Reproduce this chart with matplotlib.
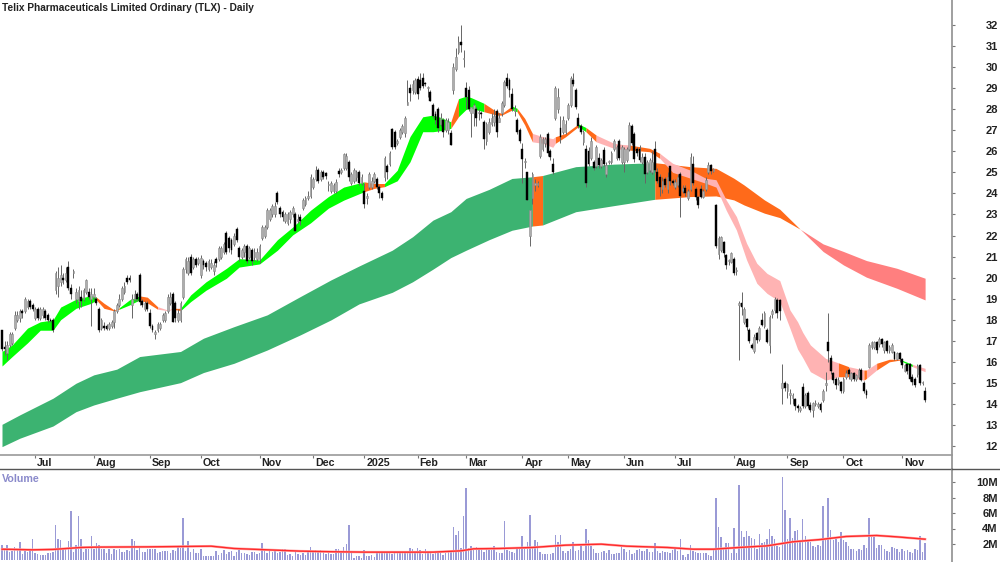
import matplotlib
matplotlib.use("Agg")
import matplotlib.pyplot as plt

plt.rcParams["font.family"] = ["Liberation Sans", "DejaVu Sans"]

title = "Telix Pharmaceuticals Limited Ordinary (TLX) - Daily"

month_idx = [13, 36, 58, 78, 101, 122, 142, 163, 182, 204, 222, 244, 264, 287, 308, 330, 353]
month_labels = ["Jul", "Aug", "Sep", "Oct", "Nov", "Dec", "2025", "Feb", "Mar", "Apr", "May", "Jun",
                "Jul", "Aug", "Sep", "Oct", "Nov"]
price_ticks = list(range(12, 33))
volume_ticks = [2, 4, 6, 8, 10]
volume_tick_labels = ["2M", "4M", "6M", "8M", "10M"]

opens = [
    17.5, 16.7, 16.4, 16.8, 16.9, 17.6, 18.0, 18.1, 18.4, 18.4, 18.6, 18.9, 18.7, 18.1, 18.5, 18.1, 18.2, 18.4, 18.2, 18.0,
    18.0, 19.4, 19.6, 19.8, 20.0, 19.9, 20.5, 19.5, 20.2, 19.0, 18.9, 19.1, 19.0, 19.3, 19.3, 19.0, 19.1, 19.0, 18.5, 17.6,
    17.7, 17.7, 17.6, 17.7, 17.9, 18.4, 18.7, 19.0, 19.3, 20.0, 20.0, 18.7, 19.0, 19.2, 20.1, 18.9, 18.5, 18.8, 18.3, 17.7,
    17.3, 17.5, 17.6, 18.0, 18.0, 18.4, 18.8, 19.2, 18.8, 18.0, 18.0, 19.1, 20.4, 20.2, 21.0, 20.5, 20.9, 20.7, 20.1, 20.8,
    20.7, 20.4, 20.5, 20.3, 20.9, 20.9, 21.0, 21.2, 22.1, 21.9, 21.8, 21.6, 22.3, 21.4, 21.0, 21.2, 21.5, 21.0, 21.3, 21.0,
    20.9, 20.9, 21.9, 22.0, 22.4, 22.8, 23.0, 23.0, 24.0, 23.3, 23.1, 22.7, 22.6, 22.8, 23.0, 23.0, 22.7, 22.9, 23.3, 23.5,
    23.8, 23.9, 24.3, 24.7, 25.1, 24.7, 25.0, 24.95, 24.4, 24.1, 24.1, 24.1, 25.05, 25.0, 25.2, 25.2, 25.5, 24.5, 24.6, 24.8,
    25.0, 24.5, 24.1, 23.8, 24.3, 24.3, 24.6, 24.7, 24.3, 24.0, 24.8, 25.3, 25.4, 27.05, 26.9, 26.4, 26.7, 26.9, 26.85, 28.2,
    29.0, 28.9, 28.8, 29.45, 29.4, 29.5, 29.25, 29.0, 28.8, 28.2, 27.75, 28.0, 27.3, 27.5, 27.0, 27.0, 26.85, 28.9, 29.9, 30.7,
    31.2, 30.4, 29.0, 28.9, 27.8, 27.8, 28.0, 27.8, 27.8, 27.4, 26.5, 26.9, 27.3, 27.4, 27.9, 27.4, 27.8, 28.2, 29.5, 29.4,
    28.7, 27.9, 27.5, 27.0, 26.1, 25.5, 25.0, 22.0, 23.8, 24.4, 24.4, 25.8, 26.1, 26.4, 26.8, 26.0, 25.4, 27.6, 28.0, 27.1,
    26.9, 26.9, 27.6, 28.2, 29.4, 28.9, 27.6, 27.2, 26.45, 26.1, 26.0, 25.7, 25.5, 25.3, 25.7, 25.3, 26.05, 24.9, 25.5, 25.5,
    26.1, 25.7, 26.5, 25.5, 25.5, 25.6, 26.1, 27.2, 26.8, 26.1, 26.1, 25.5, 25.75, 25.0, 25.1, 25.0, 26.1, 25.0, 24.8, 24.2,
    24.7, 24.2, 25.3, 24.6, 24.3, 24.4, 24.9, 24.1, 24.25, 23.8, 24.2, 25.4, 24.2, 23.85, 24.2, 23.85, 24.2, 25.0, 25.35, 25.05,
    23.45, 21.1, 21.3, 21.7, 21.05, 20.8, 20.75, 20.9, 20.3, 18.7, 18.8, 17.9, 18.05, 17.5, 16.8, 16.5, 17.35, 17.1, 18.0, 17.7,
    17.5, 16.8, 18.25, 18.45, 18.95, 18.95, 14.75, 15.0, 14.6, 14.4, 14.3, 14.25, 13.9, 13.7, 14.8, 13.9, 14.5, 13.95, 13.7, 14.0,
    13.9, 14.0, 14.2, 14.9, 16.95, 16.2, 15.45, 15.2, 15.0, 15.05, 14.6, 15.3, 15.6, 15.2, 15.45, 15.2, 15.3, 15.6, 15.0, 14.6,
    15.75, 16.7, 16.7, 16.95, 16.85, 17.1, 16.55, 17.0, 16.55, 16.45, 16.45, 16.15, 16.4, 16.15, 15.55, 15.9, 15.9, 15.3, 15.2, 15.4,
    15.85, 15.0, 14.6,
]
closes = [
    16.6, 16.6, 16.8, 17.3, 17.3, 18.2, 18.2, 18.4, 18.3, 19.0, 18.9, 18.6, 18.5, 18.5, 18.1, 18.5, 18.5, 18.1, 18.0, 17.95,
    17.5, 20.2, 20.0, 20.1, 19.9, 20.2, 19.5, 19.2, 20.3, 19.3, 19.4, 18.9, 19.4, 19.9, 19.1, 19.2, 19.2, 18.8, 17.5, 18.0,
    17.6, 17.55, 17.8, 17.9, 18.4, 18.7, 19.0, 19.5, 19.6, 19.8, 19.9, 19.0, 19.2, 19.0, 18.85, 18.7, 18.8, 18.5, 17.7, 17.5,
    17.4, 17.8, 17.8, 18.2, 18.3, 19.1, 19.1, 17.9, 18.1, 18.3, 18.8, 20.4, 20.9, 20.8, 20.2, 20.9, 20.6, 20.9, 20.95, 20.6,
    20.5, 20.8, 20.7, 20.6, 20.7, 21.4, 21.4, 21.6, 21.2, 21.4, 21.3, 22.0, 21.8, 21.0, 21.3, 21.5, 20.8, 21.4, 20.8, 21.2,
    21.2, 21.5, 22.4, 22.4, 23.2, 23.2, 23.4, 23.4, 23.6, 23.0, 22.9, 23.0, 23.0, 23.1, 23.3, 22.2, 22.8, 22.7, 23.7, 23.8,
    23.9, 24.8, 24.7, 25.1, 24.6, 25.0, 24.8, 24.85, 24.4, 24.5, 24.4, 24.55, 24.9, 25.1, 25.85, 25.8, 24.8, 24.9, 25.1, 25.0,
    24.5, 24.8, 23.5, 23.9, 24.9, 24.6, 24.9, 24.3, 24.0, 23.8, 25.7, 25.0, 25.9, 26.2, 26.2, 26.5, 27.0, 27.2, 27.6, 28.35,
    28.75, 29.2, 29.4, 28.7, 29.0, 29.1, 29.2, 29.0, 28.4, 27.7, 27.5, 27.1, 27.6, 26.9, 27.5, 27.4, 26.3, 30.0, 30.5, 31.2,
    31.05, 30.45, 28.6, 28.0, 28.1, 28.2, 27.6, 27.85, 27.75, 26.6, 27.3, 27.4, 27.6, 27.7, 26.9, 27.6, 28.3, 29.3, 29.1, 28.9,
    28.0, 28.0, 26.9, 26.5, 25.65, 25.55, 23.7, 23.2, 24.9, 24.5, 24.5, 26.7, 26.6, 26.6, 25.9, 25.75, 25.0, 29.0, 28.6, 26.7,
    27.5, 27.3, 28.2, 29.5, 29.2, 28.1, 27.2, 26.9, 26.9, 24.5, 25.4, 26.5, 25.2, 26.2, 25.35, 25.6, 25.4, 25.35, 25.5, 25.9,
    26.5, 26.2, 25.7, 26.2, 26.1, 26.1, 27.25, 26.4, 25.65, 25.9, 25.6, 25.75, 24.9, 25.5, 25.6, 25.5, 25.1, 24.6, 24.3, 24.6,
    24.4, 24.8, 24.6, 24.5, 24.55, 24.8, 23.9, 24.25, 24.0, 24.1, 25.75, 24.5, 23.85, 23.45, 23.85, 24.1, 24.65, 25.35, 25.05, 25.15,
    21.5, 21.9, 21.95, 21.15, 20.6, 20.85, 21.15, 20.2, 20.3, 18.8, 18.6, 18.5, 17.65, 17.0, 16.65, 17.2, 17.05, 17.6, 17.75, 18.3,
    16.95, 18.15, 18.4, 19.0, 18.3, 18.4, 15.0, 14.75, 14.95, 14.5, 14.4, 13.9, 13.8, 13.8, 13.9, 14.4, 13.9, 13.7, 14.05, 14.05,
    14.0, 13.7, 14.6, 15.0, 16.5, 15.55, 15.15, 14.9, 15.15, 14.6, 15.2, 15.45, 15.4, 15.45, 15.2, 15.35, 15.6, 15.15, 14.6, 14.4,
    16.8, 16.95, 16.95, 16.55, 17.1, 16.85, 16.95, 16.5, 16.7, 16.8, 16.15, 16.4, 16.15, 15.85, 15.85, 15.55, 15.2, 15.05, 14.9, 15.8,
    15.0, 15.0, 14.2,
]
highs = [
    17.5, 17.0, 17.0, 17.4, 17.4, 18.4, 18.4, 18.5, 18.5, 19.1, 19.0, 19.0, 18.8, 18.6, 18.6, 18.6, 18.6, 18.5, 18.3, 18.1,
    18.1, 20.3, 20.5, 20.6, 20.2, 20.5, 20.8, 19.7, 20.4, 19.5, 19.6, 19.4, 19.5, 19.95, 19.5, 19.5, 19.5, 19.1, 18.6, 18.1,
    17.9, 17.8, 17.9, 18.0, 18.5, 18.8, 19.2, 19.6, 19.8, 20.1, 20.1, 19.2, 19.4, 19.3, 20.2, 19.0, 18.9, 18.9, 18.5, 17.8,
    17.5, 17.9, 17.9, 18.3, 18.4, 19.2, 19.3, 19.3, 18.9, 18.5, 18.9, 20.5, 21.0, 21.0, 21.1, 21.0, 21.0, 21.0, 21.05, 20.9,
    20.8, 20.9, 20.9, 20.8, 21.0, 21.5, 21.5, 21.7, 22.2, 22.0, 21.9, 22.1, 22.4, 21.5, 21.4, 21.6, 21.6, 21.5, 21.4, 21.4,
    21.4, 21.6, 22.5, 22.5, 23.3, 23.3, 23.5, 23.6, 24.1, 23.4, 23.2, 23.1, 23.1, 23.2, 23.4, 23.1, 23.0, 23.0, 23.8, 23.9,
    24.1, 24.9, 24.8, 25.3, 25.2, 25.1, 25.1, 25.0, 24.6, 24.6, 24.5, 24.7, 25.2, 25.2, 25.9, 25.9, 25.6, 25.0, 25.2, 25.1,
    25.1, 24.9, 24.5, 24.0, 25.0, 24.8, 25.0, 24.8, 24.4, 24.1, 25.8, 25.4, 26.0, 27.1, 27.0, 26.6, 27.1, 27.3, 27.7, 29.4,
    29.2, 29.4, 29.5, 29.6, 29.7, 29.7, 29.3, 29.1, 28.9, 28.3, 27.9, 28.1, 27.8, 27.6, 27.6, 27.6, 27.0, 30.2, 30.9, 31.5,
    32.0, 30.8, 29.3, 29.1, 28.1, 28.3, 28.1, 28.0, 27.9, 27.5, 27.4, 27.6, 27.8, 28.0, 28.0, 27.8, 28.4, 29.4, 29.7, 29.5,
    29.0, 28.2, 27.6, 27.1, 26.4, 25.7, 25.0, 23.2, 25.0, 24.7, 24.6, 26.8, 26.7, 26.7, 26.9, 26.1, 25.7, 29.1, 29.0, 27.7,
    27.7, 27.5, 28.3, 29.6, 29.7, 29.0, 27.8, 27.3, 27.0, 26.3, 26.2, 26.7, 25.6, 26.3, 25.9, 25.7, 26.2, 25.5, 25.6, 26.0,
    26.6, 26.3, 26.6, 26.3, 26.2, 26.2, 27.4, 27.3, 26.9, 26.2, 26.3, 25.9, 25.9, 25.6, 25.7, 26.0, 26.5, 25.2, 24.9, 24.8,
    24.8, 25.0, 25.3, 24.7, 24.7, 24.9, 25.0, 24.4, 24.4, 24.2, 25.9, 25.8, 24.3, 23.9, 24.4, 24.2, 24.8, 25.5, 25.4, 25.2,
    23.5, 22.0, 22.0, 21.75, 21.1, 20.9, 21.2, 21.0, 20.5, 18.9, 19.3, 18.6, 18.1, 17.6, 16.9, 17.3, 17.4, 17.7, 18.3, 18.4,
    17.6, 18.2, 18.5, 19.1, 19.05, 19.0, 15.9, 15.1, 15.0, 14.7, 14.5, 14.3, 14.0, 13.9, 15.0, 14.5, 14.6, 14.1, 14.1, 14.2,
    14.1, 14.1, 14.7, 15.5, 18.3, 16.3, 15.5, 15.3, 15.3, 15.1, 15.3, 15.6, 15.7, 15.5, 15.5, 15.4, 15.7, 15.7, 15.1, 14.7,
    16.9, 17.0, 17.0, 17.0, 17.2, 17.15, 17.0, 17.05, 16.8, 16.9, 16.5, 16.45, 16.45, 16.2, 15.9, 15.95, 15.95, 15.4, 15.3, 15.9,
    15.9, 15.1, 14.8,
]
lows = [
    16.5, 16.3, 16.1, 16.7, 16.8, 17.5, 17.9, 17.9, 18.1, 18.3, 18.5, 18.5, 18.4, 18.0, 18.0, 18.0, 18.1, 18.0, 17.9, 17.9,
    17.4, 19.2, 19.1, 19.6, 19.7, 19.8, 19.4, 19.0, 20.0, 18.8, 18.5, 18.6, 18.9, 19.2, 19.0, 17.7, 19.0, 18.7, 17.4, 17.5,
    17.5, 17.5, 17.5, 17.6, 17.6, 18.3, 18.6, 18.9, 19.2, 19.7, 19.8, 18.1, 18.9, 18.9, 18.7, 18.6, 18.4, 18.4, 17.6, 17.4,
    17.1, 17.4, 17.5, 17.9, 17.9, 18.3, 18.7, 17.9, 17.9, 17.9, 17.9, 19.0, 20.2, 20.1, 20.1, 20.4, 20.5, 20.6, 20.0, 20.4,
    20.3, 20.3, 20.4, 20.1, 20.5, 20.8, 20.9, 21.1, 21.1, 21.2, 21.1, 21.5, 21.7, 20.8, 20.9, 21.0, 20.7, 20.9, 20.6, 20.8,
    20.8, 20.7, 21.8, 21.9, 22.3, 22.7, 22.9, 22.9, 23.5, 22.9, 22.7, 22.6, 22.5, 22.6, 22.9, 22.2, 22.6, 22.5, 23.2, 23.4,
    23.7, 23.8, 24.2, 24.6, 24.5, 24.6, 24.7, 24.7, 24.1, 24.0, 24.0, 24.0, 24.8, 24.9, 25.1, 25.1, 24.6, 24.4, 24.5, 24.6,
    24.4, 24.4, 23.3, 23.5, 24.2, 24.2, 24.5, 24.2, 23.8, 23.7, 24.6, 24.7, 25.3, 26.1, 26.1, 26.3, 26.6, 26.8, 26.7, 28.2,
    28.4, 28.7, 28.7, 28.5, 28.9, 29.0, 29.1, 28.6, 28.4, 27.6, 27.3, 26.9, 27.2, 26.7, 26.9, 26.8, 26.3, 28.7, 29.8, 30.6,
    30.7, 30.0, 28.0, 27.9, 26.7, 27.2, 27.2, 27.5, 27.6, 26.1, 26.3, 26.8, 27.2, 27.2, 26.7, 27.4, 27.7, 28.1, 29.0, 28.6,
    27.9, 27.7, 26.8, 26.4, 24.5, 25.2, 23.7, 21.5, 23.5, 24.1, 24.3, 25.7, 26.0, 26.2, 25.8, 25.6, 24.9, 27.5, 27.8, 26.4,
    26.8, 26.8, 27.5, 28.1, 29.1, 28.0, 27.1, 26.8, 26.3, 24.3, 25.3, 25.6, 25.1, 25.2, 25.2, 25.2, 25.3, 24.8, 25.4, 25.4,
    26.0, 25.6, 25.6, 25.4, 25.0, 25.5, 26.0, 26.3, 25.5, 25.8, 25.5, 25.4, 24.5, 24.9, 25.0, 24.9, 25.0, 24.5, 23.9, 24.0,
    24.3, 24.0, 24.4, 24.4, 24.2, 24.3, 22.9, 24.0, 23.9, 23.7, 24.1, 24.4, 23.7, 23.3, 23.8, 23.8, 24.1, 24.9, 24.9, 25.0,
    21.4, 20.9, 21.2, 21.0, 20.4, 20.6, 20.7, 20.1, 20.1, 16.1, 18.2, 17.8, 17.5, 16.9, 16.6, 16.4, 16.9, 17.0, 17.7, 17.6,
    16.9, 16.4, 18.1, 18.3, 18.1, 18.0, 14.0, 14.6, 14.3, 14.0, 14.0, 13.7, 13.6, 13.6, 13.8, 13.8, 13.8, 13.6, 13.4, 13.9,
    13.8, 13.6, 14.1, 14.6, 16.0, 15.4, 15.0, 14.7, 14.9, 14.5, 14.5, 15.2, 15.2, 15.1, 15.1, 15.1, 15.2, 15.1, 14.5, 14.3,
    15.7, 16.6, 16.6, 16.4, 16.7, 16.7, 16.4, 16.4, 16.4, 16.4, 16.1, 16.1, 16.0, 15.7, 15.5, 15.4, 15.1, 14.9, 14.8, 15.3,
    14.9, 14.9, 14.1,
]
volumes = [
    1.85, 1.2, 1.85, 1.0, 1.1, 1.55, 1.2, 2.3, 0.7, 1.1, 1.0, 1.1, 2.6, 0.8, 0.7, 0.6, 0.6, 0.6, 0.9, 0.9,
    1.0, 4.5, 2.7, 2.5, 1.3, 1.3, 2.4, 6.3, 1.0, 1.9, 5.6, 2.7, 1.0, 1.3, 1.4, 3.0, 1.3, 2.1, 1.9, 1.3,
    1.3, 0.8, 1.3, 0.7, 1.3, 1.2, 1.4, 1.0, 1.0, 1.2, 1.1, 2.7, 2.4, 1.2, 1.6, 1.0, 1.0, 1.4, 1.3, 1.3,
    1.3, 0.9, 1.0, 1.1, 1.1, 1.1, 0.9, 1.2, 1.1, 1.6, 1.5, 5.3, 1.1, 2.4, 1.0, 1.4, 0.9, 0.9, 1.4, 0.5,
    0.5, 0.5, 0.5, 0.5, 1.1, 0.6, 0.8, 1.2, 0.7, 1.0, 1.1, 0.5, 1.0, 1.2, 0.9, 0.9, 0.7, 0.6, 1.0, 1.0,
    0.7, 0.9, 2.15, 1.2, 0.9, 1.3, 1.0, 1.1, 0.9, 1.0, 1.3, 1.3, 0.6, 0.7, 0.5, 1.0, 0.7, 0.6, 0.9, 0.6,
    1.1, 1.6, 1.0, 1.2, 1.1, 1.2, 1.0, 0.7, 1.1, 0.7, 0.7, 1.3, 1.3, 0.9, 1.6, 2.0, 4.5, 0.9, 0.2, 0.4,
    0.5, 0.2, 1.2, 0.5, 0.5, 0.6, 0.3, 0.9, 0.9, 1.0, 0.8, 0.9, 0.9, 0.7, 1.1, 0.8, 1.0, 1.0, 1.0, 1.1,
    1.5, 1.3, 1.0, 1.5, 1.2, 0.7, 1.4, 0.8, 1.0, 0.7, 0.8, 0.8, 0.8, 0.6, 0.9, 1.0, 1.0, 4.2, 3.1, 3.65,
    1.5, 5.6, 9.2, 1.5, 1.7, 1.3, 1.6, 1.5, 1.4, 1.0, 1.5, 1.2, 1.2, 1.8, 1.0, 0.8, 0.9, 4.95, 1.2, 1.1,
    1.0, 0.8, 1.4, 1.5, 3.0, 1.6, 2.2, 5.7, 1.5, 2.5, 2.3, 1.0, 0.7, 0.7, 0.7, 0.7, 0.8, 3.1, 2.2, 3.1,
    1.1, 0.9, 1.1, 1.3, 2.3, 1.1, 1.2, 1.7, 1.1, 4.0, 2.5, 1.7, 1.3, 0.9, 0.9, 1.0, 1.1, 0.8, 1.2, 0.7,
    0.7, 0.9, 0.8, 1.6, 1.4, 1.0, 1.2, 0.7, 0.9, 1.2, 1.4, 1.1, 1.1, 1.4, 1.0, 1.0, 2.1, 1.1, 0.9, 1.1,
    1.0, 1.0, 0.8, 1.2, 1.3, 1.1, 2.7, 0.6, 0.3, 0.7, 1.85, 1.1, 1.0, 0.9, 0.8, 0.8, 0.8, 0.6, 0.5, 1.3,
    7.9, 4.2, 2.9, 1.3, 2.1, 2.1, 0.9, 4.1, 0.9, 9.55, 3.65, 2.9, 3.65, 3.0, 2.8, 2.7, 1.4, 3.35, 2.15, 2.3,
    2.7, 3.95, 3.0, 2.6, 1.8, 1.6, 10.6, 6.4, 2.7, 5.4, 2.8, 3.7, 3.8, 2.5, 5.25, 3.0, 2.5, 2.2, 1.8, 1.6,
    1.85, 1.75, 6.85, 2.7, 7.9, 3.85, 2.5, 2.7, 2.3, 3.5, 2.5, 2.2, 1.7, 1.4, 1.3, 1.1, 1.3, 1.2, 1.9, 1.5,
    5.4, 2.9, 2.9, 1.5, 1.85, 1.85, 1.4, 1.1, 1.0, 1.6, 1.5, 1.4, 1.0, 1.3, 1.15, 1.2, 1.0, 0.8, 1.4, 1.2,
    3.0, 1.0, 2.15,
]

vol_ma_idx = [0, 12, 20, 31, 38, 57, 82, 91, 104, 117, 130, 143, 169, 180, 185, 195, 208, 221, 235, 245,
              261, 271, 279, 289, 300, 310, 321, 331, 343, 351, 362]
vol_ma = [1.33, 1.25, 1.3, 1.55, 1.6, 1.63, 1.72, 1.42, 1.25, 1.08, 1.0, 0.95, 0.95, 1.12, 1.38, 1.42, 1.55, 1.85,
          1.98, 1.72, 1.55, 1.33, 1.33, 1.55, 1.76, 2.28, 2.58, 2.97, 3.1, 2.92, 2.62]

short_idx = [0, 4, 10, 15, 20, 23, 29, 35, 37, 40, 44, 46, 50, 54, 57, 61, 65, 67, 70, 74,
             80, 88, 93, 101, 108, 114, 121, 128, 134, 142, 146, 150, 155, 160, 165, 169, 172, 176, 179, 182,
             184, 189, 194, 196, 200, 202, 205, 208, 212, 216, 217, 221, 226, 229, 233, 240, 243, 246, 254, 258,
             263, 270, 276, 280, 284, 288, 292, 296, 300, 305, 309, 312, 314, 317, 323, 328, 332, 338, 339, 343,
             348, 352, 357, 362]
short_top = [16.49, 16.8, 17.6, 17.9, 17.99, 18.6, 18.97, 19.15, 19.07, 18.78, 18.46, 18.57, 18.94, 19.13, 19.07, 18.62, 18.46, 18.54, 18.54, 19.18,
             19.8, 20.44, 20.9, 20.84, 21.8, 22.4, 23.2, 23.85, 24.3, 24.55, 24.47, 24.47, 25.1, 26.7, 27.64, 27.72, 27.61, 27.4, 28.5, 28.62,
             28.55, 28.28, 27.88, 27.8, 28.15, 28.04, 27.56, 26.85, 26.7, 26.6, 26.69, 26.85, 27.3, 27.13, 26.77, 26.38, 26.33, 26.3, 26.14, 25.9,
             25.43, 25.1, 24.72, 24.65, 23.69, 22.9, 21.63, 20.68, 20.2, 19.86, 18.46, 17.9, 17.4, 16.8, 16.16, 15.95, 15.77, 15.61, 15.61, 15.93,
             16.12, 16.12, 15.88, 15.69]
short_bot = [15.8, 16.25, 16.9, 17.5, 17.5, 18.0, 18.54, 18.78, 18.94, 18.54, 18.42, 18.5, 18.7, 18.94, 18.8, 18.5, 18.43, 18.5, 18.43, 18.86,
             19.4, 19.97, 20.5, 20.65, 21.3, 22.03, 22.6, 23.3, 23.68, 24.08, 24.24, 24.32, 24.6, 25.5, 26.93, 26.93, 26.98, 27.09, 27.64, 27.99,
             28.04, 27.88, 27.72, 27.72, 27.96, 27.88, 27.25, 26.45, 26.38, 26.19, 26.38, 26.69, 27.17, 26.93, 26.45, 26.14, 26.1, 26.06, 25.98, 25.66,
             25.0, 24.72, 24.48, 24.3, 23.2, 22.26, 20.84, 19.73, 19.25, 18.86, 17.59, 16.6, 16.2, 15.53, 15.13, 15.29, 15.29, 15.13, 15.21, 15.61,
             16.0, 16.08, 15.77, 15.53]
# trend state of the stretch that starts at each sample
short_state = ["up"] * 8 + ["fall"] * 3 + ["up"] * 2 + ["fall"] * 2 + ["weak"] * 2 + ["fall"] + ["up"] * 11 + \
              ["fall"] * 2 + ["up"] * 6 + ["fall"] + ["up"] * 3 + ["fall"] * 3 + ["up"] + ["fall"] * 2 + ["weak"] * 3 + \
              ["fall"] * 2 + ["up"] + ["fall"] + ["weak"] * 3 + ["fall"] * 2 + ["weak"] * 16 + \
              ["fall"] + ["weak"] + ["fall"] + ["weak"] + ["fall"] * 2 + ["up"] + ["weak"] * 2

long_idx = [0, 7, 20, 29, 36, 45, 54, 70, 79, 91, 104, 117, 129, 140, 153, 161, 169, 176, 182, 191,
            200, 208, 212, 225, 240, 256, 270, 280, 287, 291, 299, 305, 313, 322, 330, 339, 351, 362]
long_top = [13.03, 13.48, 14.27, 14.98, 15.38, 15.65, 16.25, 16.49, 17.12, 17.67, 18.23, 19.1, 19.89, 20.55, 21.3, 21.94, 22.73, 23.13, 23.76, 24.19,
            24.71, 24.79, 24.85, 25.27, 25.39, 25.46, 25.27, 25.19, 24.72, 24.4, 23.69, 23.25, 22.3, 21.6, 21.24, 20.81, 20.44, 19.97]
long_bot = [11.97, 12.37, 12.95, 13.63, 13.95, 14.27, 14.58, 15.01, 15.49, 15.93, 16.56, 17.28, 17.99, 18.75, 19.3, 19.8, 20.4, 20.95, 21.3, 21.8,
            22.25, 22.45, 22.5, 23.13, 23.42, 23.72, 23.85, 23.88, 23.69, 23.45, 23.06, 22.85, 22.3, 21.24, 20.6, 20.02, 19.49, 18.94]
long_state = ["up"] * 21 + ["fall"] + ["up"] * 3 + ["fall"] * 7 + ["down"] * 6

short_colors = {"up": "#00ff00", "fall": "#ff6a1a", "weak": "#ffb3b3"}
long_colors = {"up": "#3cb371", "fall": "#ff6a1a", "down": "#ff7f7f"}


def draw_ribbon(ax, idx, top, bot, state, colors):
    # one polygon per run of equal state, so no seams show inside a run
    start = 0
    for i in range(1, len(idx)):
        if i == len(idx) - 1 or state[i] != state[start]:
            c = colors[state[start]]
            ax.fill_between(idx[start:i + 1], bot[start:i + 1], top[start:i + 1], color=c, linewidth=0, zorder=2)
            start = i


W, H = 1000, 562
PX_PER_BAR = 2.55
PX_PER_UNIT = 21.05
PX_PER_M = 7.75
AXIS_X = 952
FONT_SIZE = 7.7

fig = plt.figure(figsize=(W / 100, H / 100), dpi=100, facecolor="white")

ax = fig.add_axes([0, (H - 455) / H, AXIS_X / W, 455 / H])
ax_date = fig.add_axes([0, (H - 469) / H, AXIS_X / W, 14 / H])
ax_vol = fig.add_axes([0, 0, AXIS_X / W, (H - 469) / H])

xlim = (-2 / PX_PER_BAR, (AXIS_X - 2) / PX_PER_BAR)
ax.set_xlim(*xlim)
ax_date.set_xlim(*xlim)
ax_vol.set_xlim(*xlim)
ax.set_ylim(12 + (446 - 455) / PX_PER_UNIT, 12 + 446 / PX_PER_UNIT)
ax_vol.set_ylim(-2.5 / PX_PER_M, 90.5 / PX_PER_M)
ax_date.set_ylim(0, 1)

draw_ribbon(ax, long_idx, long_top, long_bot, long_state, long_colors)
draw_ribbon(ax, short_idx, short_top, short_bot, short_state, short_colors)

bars = list(range(len(closes)))
ax.vlines(bars, lows, highs, color="#666666", linewidth=0.7, zorder=3)
for i, o, c in zip(bars, opens, closes):
    if c >= o:
        ax.bar(i, max(c - o, 0.04), bottom=o, width=0.7, facecolor="#adadad", edgecolor="#8a8a8a",
               linewidth=0.4, zorder=4)
    else:
        ax.bar(i, max(o - c, 0.04), bottom=c, width=0.72, facecolor="black", edgecolor="black",
               linewidth=0.3, zorder=4)

ax_vol.bar(bars, volumes, width=0.55, color="#9a9ad6", linewidth=0)
ax_vol.plot(vol_ma_idx, vol_ma, color="#ffaaaa", linewidth=1.8, zorder=3)
ax_vol.plot(vol_ma_idx, vol_ma, color="#ff2a2a", linewidth=1.0, zorder=4)
ax_vol.text(0, 10.4, "Volume", color="#8a8acb", fontsize=FONT_SIZE, fontweight="bold", va="center")

for a in (ax, ax_date, ax_vol):
    for s in a.spines.values():
        s.set_visible(False)
    a.set_xticks([])
    a.set_yticks([])
    a.patch.set_alpha(0)

# right hand scale, labels are right aligned against the image edge
ax.set_yticks(price_ticks)
ax.set_yticklabels([str(p) for p in price_ticks], fontsize=FONT_SIZE + 0.3, fontweight="bold", color="#222222")
ax.yaxis.tick_right()
ax.tick_params(axis="y", length=2, width=0.8, color="#777777", pad=31, direction="out")
for lab in ax.get_yticklabels():
    lab.set_ha("right")

ax_vol.set_yticks(volume_ticks)
ax_vol.set_yticklabels(volume_tick_labels, fontsize=FONT_SIZE + 0.3, fontweight="bold", color="#222222")
ax_vol.yaxis.tick_right()
ax_vol.tick_params(axis="y", length=2, width=0.8, color="#777777", pad=31, direction="out")
for lab in ax_vol.get_yticklabels():
    lab.set_ha("right")

for a in (ax, ax_date, ax_vol):
    a.spines["right"].set_visible(True)
    a.spines["right"].set_color("#8f8f8f")
    a.spines["right"].set_linewidth(1.2)

ax_date.spines["top"].set_visible(True)
ax_date.spines["top"].set_color("#9a9a9a")
ax_date.spines["top"].set_linewidth(1.2)
ax_date.spines["bottom"].set_visible(True)
ax_date.spines["bottom"].set_color("#555555")
ax_date.spines["bottom"].set_linewidth(1.0)

ax_date.vlines(month_idx, 0.78, 1, color="#777777", linewidth=0.8)
for i, lab in zip(month_idx, month_labels):
    ax_date.text(i + 0.8, 0.46, lab, fontsize=FONT_SIZE, fontweight="bold", color="#222222", ha="left", va="center")

# the rule under the date strip runs on to the right edge
fig.add_artist(plt.Line2D([AXIS_X / W, 1], [(H - 469) / H] * 2, color="#555555", linewidth=1.0))

fig.text(2 / W, 1 - 8 / H, title, fontsize=7.3, fontweight="bold", color="#222222", ha="left", va="center")

fig.savefig("out.png", dpi=100)
